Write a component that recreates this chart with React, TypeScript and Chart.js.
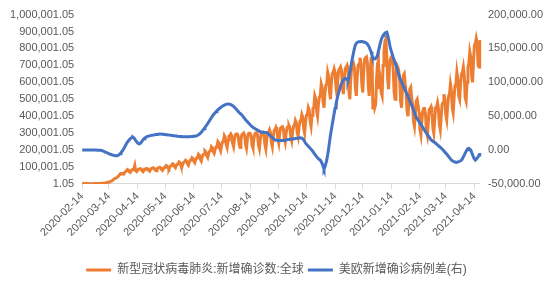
import React, { useEffect, useRef } from 'react';
import { Chart, registerables } from 'chart.js';

Chart.register(...registerables);

// ---- data ----
const START_DATE = '2020-02-14';

// Global daily new confirmed cases (thousands), one value per day from START_DATE
const GLOBAL_NEW_CASES_K = [
  5, 3, 2, 2, 2, 2, 1,
  1.2, 1.6, 1.0, 1.4, 1.2, 1.5, 1.7,
  1.8, 1.9, 1.8, 1.9, 2.2, 2.2, 2.8,
  3.5, 3.9, 3.7, 4.0, 4.5, 6.8, 7.5,
  10, 11, 13, 15, 17, 21, 27,
  31, 33, 36, 39, 44, 50, 58,
  62, 63, 60, 58, 68, 74, 77,
  85, 82, 72, 68, 78, 84, 85,
  90, 110, 76, 72, 80, 86, 88,
  90, 87, 76, 72, 83, 89, 90,
  92, 89, 79, 75, 85, 91, 92,
  95, 92, 82, 78, 88, 94, 95,
  98, 95, 85, 80, 91, 97, 98,
  108, 105, 93, 88, 100, 107, 108,
  118, 115, 101, 95, 109, 117, 118,
  130, 126, 108, 100, 118, 128, 130,
  140, 136, 118, 110, 128, 139, 140,
  155, 151, 133, 125, 143, 154, 155,
  175, 169, 145, 135, 159, 173, 175,
  195, 189, 165, 155, 179, 193, 195,
  220, 214, 190, 180, 204, 218, 220,
  250, 242, 209, 195, 228, 247, 250,
  285, 275, 233, 215, 257, 282, 285,
  295, 284, 239, 220, 265, 291, 295,
  295, 283, 235, 215, 263, 291, 295,
  300, 287, 233, 210, 264, 296, 300,
  298, 285, 230, 212, 266, 294, 301,
  302, 288, 227, 206, 261, 297, 303,
  305, 290, 230, 205, 265, 300, 305,
  320, 305, 245, 220, 280, 315, 320,
  335, 321, 264, 240, 297, 330, 335,
  338, 324, 268, 245, 301, 333, 338,
  345, 332, 278, 255, 309, 341, 345,
  375, 361, 304, 280, 337, 370, 375,
  410, 394, 328, 300, 366, 405, 410,
  450, 434, 368, 340, 406, 445, 450,
  520, 502, 430, 400, 472, 514, 520,
  590, 569, 485, 450, 534, 583, 590,
  660, 636, 540, 500, 596, 652, 660,
  680, 658, 568, 530, 620, 673, 680,
  690, 666, 570, 530, 626, 682, 690,
  700, 670, 550, 500, 620, 690, 700,
  710, 682, 568, 520, 634, 700, 710,
  745, 714, 591, 540, 663, 735, 745,
  750, 716, 578, 520, 658, 739, 750,
  440, 500, 450, 470, 620, 710, 730,
  560, 600, 540, 520, 700, 780, 840,
  855, 760, 620, 560, 700, 740, 750,
  740, 680, 540, 500, 620, 700, 690,
  670, 620, 490, 450, 560, 640, 650,
  590, 540, 430, 400, 480, 560, 570,
  510, 470, 370, 340, 420, 490, 500,
  460, 420, 320, 290, 370, 430, 445,
  445, 410, 310, 285, 360, 440, 445,
  455, 420, 330, 300, 380, 450, 455,
  480, 445, 350, 320, 400, 470, 480,
  530, 500, 410, 380, 460, 520, 530,
  590, 555, 450, 420, 510, 580, 590,
  660, 620, 520, 500, 590, 650, 660,
  690, 640, 510, 490, 600, 690, 710,
  780, 750, 640, 600, 720, 820, 830,
  860, 830, 700, 690, 850,
];

// US minus Europe daily new confirmed cases (thousands), one value per day
const US_EU_DIFF_K = [
  0, 0, 0, 0, 0, 0, 0, 0, 0, 0, 0, 0, 0, 0, 0, 0, 0, -0.2, -0.3, -0.4,
  -0.5, -0.8, -1.2, -1.8, -2.4, -3, -3.6, -4.2, -4.8, -5.4, -6, -6.5, -7, -7.4, -7.8, -8.1, -8.3, -8.4, -8.4,
  -7.8, -6.8, -5.5, -4, -2.2, -0.2, 2, 4.5, 7, 9.5, 11.8, 13.5, 15, 16.5, 17.8, 18.6, 19,
  18, 16, 14, 12.2, 10.5, 9.4, 9,
  9.8, 11.5, 13.5, 15.3, 16.8, 18, 19, 19.7,
  20.2, 20.6, 21, 21.3, 21.6, 21.9, 22.1, 22.4, 22.6, 22.8, 23, 23.2, 23.4, 23.5,
  23.5, 23.4, 23.3, 23.2, 23, 22.9, 22.7, 22.5, 22.3, 22.2, 22, 21.8, 21.6, 21.4, 21.2, 21, 20.8, 20.6, 20.4, 20.2, 20.1, 20,
  19.9, 19.8, 19.7, 19.7, 19.6, 19.6, 19.6, 19.7, 19.7, 19.7, 19.7, 19.8, 19.9, 20.1, 20.3, 20.5, 20.8, 21,
  21.8, 22.7, 23.7, 24.7, 26.3, 28, 29.8, 31.6, 33.4, 35.2, 37, 39.2, 41.4, 43.5, 45.6, 47.7, 49.8, 51.8,
  53.5, 55.1, 56.6, 58, 59.3, 60.6, 61.7, 62.8, 63.8, 64.8, 65.6, 66.3, 66.9, 67.4, 67.8, 68,
  67.9, 67.6, 67.1, 66.4, 65.5, 64.4, 63.1, 61.7,
  60.2, 58.6, 57, 55.4, 54.2, 53, 51.8,
  50, 48.3, 46.5, 44.8, 43.3, 41.9, 40.4, 38.9, 37.4, 35.9, 34.5,
  33.6, 32.7, 31.8, 30.9, 30.1, 29.3, 28.6, 27.8, 27, 26.6, 26.3, 26.1, 26, 25.9, 25.8, 25.6,
  24.5, 23.3, 22, 20.8, 19.6, 18.4, 17.2, 16, 14.8,
  14.6, 14.4, 14.2, 14.1, 14, 14, 14, 14, 14, 14.2, 14.5, 14.8, 15.1, 15.4, 15.6, 15.8, 16,
  16.2, 16.4, 16.6, 16.8, 17, 17.2, 17.4, 17.6, 17.8, 18, 18,
  17.5, 16.5, 15, 12.8, 10, 8.5, 7, 5.5, 4, 2.5, 1, -0.5, -2.2, -4.4,
  -6.2, -8, -9.8, -11.5, -13, -14, -15, -17, -20, -24, -28,
  -25, -20, -15, -7, 2, 12, 22,
  30, 38, 46, 54, 62, 68, 74, 80, 85, 90, 95,
  98, 101, 103.5, 105, 106, 105, 104, 103,
  108, 115, 122, 130, 137, 144, 150, 155, 157.5, 159, 159.8, 160,
  160.2, 160.3, 160.2, 160, 159.6, 159.2, 158.7, 157.8, 156.5, 154.5, 152, 148.5, 145,
  140, 137, 135, 134.5, 135, 137, 140,
  146, 152, 158, 163, 166.5, 169, 171, 172.5, 173.5, 174,
  170, 164, 157, 150, 146, 141.5, 137, 133, 129, 125, 120.5, 116, 111.5, 107.5, 103.5,
  100.5, 97.5, 94.5, 91.5, 88.2, 85, 82, 79, 76, 72.7, 69.5,
  66, 62.5, 59, 55.5, 51.8, 48, 46, 44, 42, 40, 38,
  35.8, 33.6, 31.4, 29.2, 27, 25, 23, 21, 19, 17, 15,
  14, 13, 12, 11, 10, 8.8, 7.6, 6.4, 5.2, 4.1, 3,
  1.5, 0, -1.5, -3, -4.4, -6.1, -7.8, -9.5, -11.2, -13, -14.8, -15.8, -16.6, -17.3, -17.8, -18,
  -18, -17.8, -17.3, -16.6, -15.8, -15, -13, -10.2, -7.4,
  -4.6, -2, 0.5, 2, 2.5, 1.5, 0,
  -3.5, -7, -10.5, -13, -14.8, -13.5, -12, -10, -7.2, -4.4,
];

const LEFT_TICKS = [
  1.05, 100001.05, 200001.05, 300001.05, 400001.05, 500001.05,
  600001.05, 700001.05, 800001.05, 900001.05, 1000001.05,
];
const RIGHT_TICKS = [-50000, 0, 50000, 100000, 150000, 200000];
const SERIES_NAMES = ['新型冠状病毒肺炎:新增确诊数:全球', '美欧新增确诊病例差(右)'];
const SERIES_COLORS = ['#ED7D31', '#4472C4'];
const LABEL_DAY = '-14';

function buildDates(start: string, n: number): string[] {
  const out: string[] = [];
  const d = new Date(start + 'T00:00:00Z');
  for (let i = 0; i < n; i++) {
    out.push(d.toISOString().slice(0, 10));
    d.setUTCDate(d.getUTCDate() + 1);
  }
  return out;
}

const FONT_FAMILY = '"Liberation Sans", "Noto Sans CJK SC", sans-serif';
const TEXT_COLOR = '#595959';
const AXIS_COLOR = '#d9d9d9';

export default function App() {
  const ref = useRef<HTMLCanvasElement | null>(null);

  useEffect(() => {
    if (!ref.current) return;
    const labels = buildDates(START_DATE, GLOBAL_NEW_CASES_K.length);
    const isMonthTick = (i: number) => !!labels[i] && labels[i].endsWith(LABEL_DAY);
    const fmt2 = (v: number) =>
      Number(v).toLocaleString('en-US', { minimumFractionDigits: 2, maximumFractionDigits: 2 });

    const chart = new Chart(ref.current, {
      type: 'line',
      data: {
        labels,
        datasets: [
          {
            label: SERIES_NAMES[0],
            data: GLOBAL_NEW_CASES_K.map((v) => v * 1000),
            borderColor: SERIES_COLORS[0],
            backgroundColor: SERIES_COLORS[0],
            borderWidth: 3,
            pointRadius: 0,
            tension: 0,
            yAxisID: 'y',
            order: 1,
          },
          {
            label: SERIES_NAMES[1],
            data: US_EU_DIFF_K.map((v) => v * 1000),
            borderColor: SERIES_COLORS[1],
            backgroundColor: SERIES_COLORS[1],
            borderWidth: 3,
            pointRadius: 0,
            tension: 0,
            yAxisID: 'y1',
            order: 0,
          },
        ],
      },
      options: {
        animation: false,
        responsive: true,
        maintainAspectRatio: false,
        layout: { padding: { left: 2, right: 3, top: 12, bottom: 5 } },
        plugins: {
          tooltip: { enabled: false },
          legend: {
            position: 'bottom',
            labels: {
              font: { family: FONT_FAMILY, size: 12 },
              color: TEXT_COLOR,
              boxWidth: 25,
              boxHeight: 3,
              padding: 4,
              sort: (a: any, b: any) => a.datasetIndex - b.datasetIndex,
              generateLabels: (c: any) => {
                const items = Chart.defaults.plugins.legend.labels.generateLabels(c);
                return items.map((it: any) => ({ ...it, lineWidth: 0 }));
              },
            },
          },
        },
        scales: {
          x: {
            type: 'category',
            grid: {
              display: true,
              drawOnChartArea: false,
              drawTicks: true,
              tickLength: 5,
              color: (ctx: any) => (isMonthTick(ctx.index) ? AXIS_COLOR : 'rgba(0,0,0,0)'),
              tickColor: (ctx: any) => (isMonthTick(ctx.index) ? AXIS_COLOR : 'rgba(0,0,0,0)'),
            },
            border: { display: true, color: AXIS_COLOR },
            ticks: {
              autoSkip: false,
              maxRotation: 45,
              minRotation: 45,
              padding: 1,
              font: { family: FONT_FAMILY, size: 11 },
              color: TEXT_COLOR,
              callback: (_v: any, i: number) => (isMonthTick(i) ? labels[i] : ''),
            },
            afterFit: (scale: any) => {
              scale.height += 20;
            },
          },
          y: {
            position: 'left',
            min: LEFT_TICKS[0],
            max: LEFT_TICKS[LEFT_TICKS.length - 1],
            grid: { display: false, drawTicks: false },
            border: { display: false },
            afterBuildTicks: (scale: any) => {
              scale.ticks = LEFT_TICKS.map((v) => ({ value: v }));
            },
            ticks: {
              padding: 8,
              font: { family: FONT_FAMILY, size: 11 },
              color: TEXT_COLOR,
              callback: (v: any) => fmt2(v),
            },
          },
          y1: {
            position: 'right',
            min: RIGHT_TICKS[0],
            max: RIGHT_TICKS[RIGHT_TICKS.length - 1],
            grid: { display: false, drawTicks: false },
            border: { display: false },
            afterBuildTicks: (scale: any) => {
              scale.ticks = RIGHT_TICKS.map((v) => ({ value: v }));
            },
            ticks: {
              padding: 8,
              font: { family: FONT_FAMILY, size: 11 },
              color: TEXT_COLOR,
              callback: (v: any) => fmt2(v),
            },
          },
        },
      },
    });
    return () => chart.destroy();
  }, []);

  return (
    <div style={{ position: 'fixed', left: 0, top: 0, width: 554, height: 291, background: '#fff' }}>
      <canvas ref={ref} />
    </div>
  );
}
